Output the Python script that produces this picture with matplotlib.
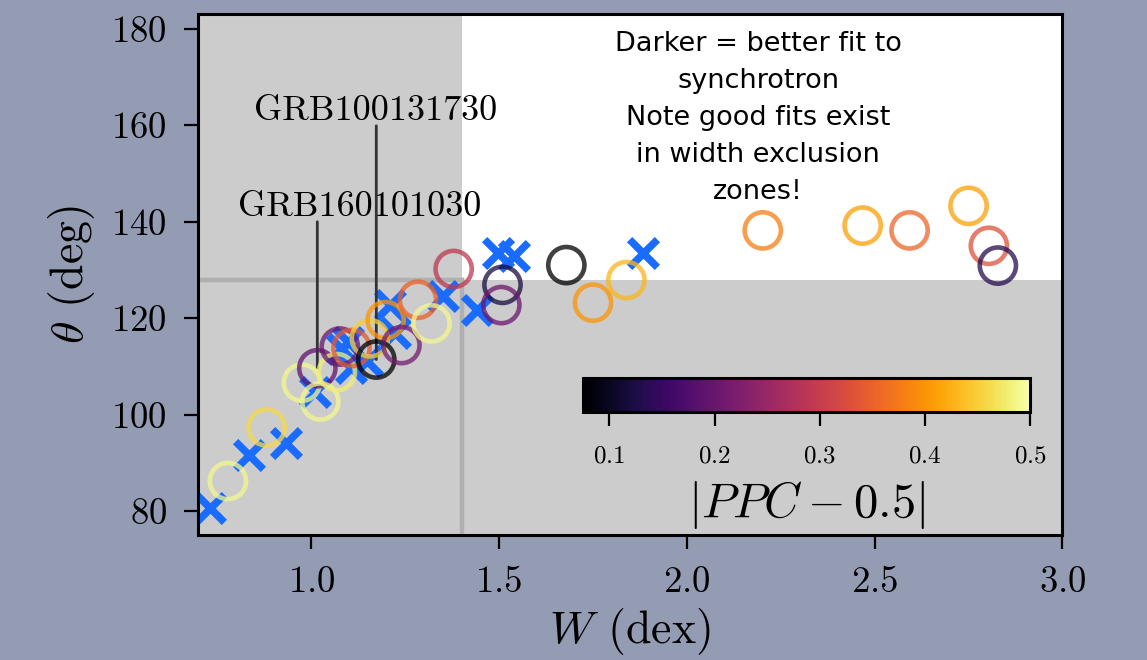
import matplotlib
matplotlib.use("Agg")
import matplotlib.pyplot as plt
from matplotlib.colors import Normalize
from matplotlib.cm import ScalarMappable

plt.rcParams['font.family'] = 'serif'
plt.rcParams['font.serif'] = ['cmr10']
plt.rcParams['mathtext.fontset'] = 'cm'
plt.rcParams['axes.formatter.use_mathtext'] = True
plt.rcParams['axes.unicode_minus'] = False

# Bursts with a synchrotron fit: width W (dex), angle theta (deg), |PPC - 0.5|
fit_w = [0.778, 0.881, 0.975, 1.016, 1.024, 1.068, 1.076, 1.107, 1.156, 1.173,
         1.198, 1.240, 1.284, 1.320, 1.379, 1.509, 1.506, 1.679, 1.750, 1.839,
         2.202, 2.468, 2.593, 2.750, 2.804, 2.828]
fit_theta = [86.2, 97.3, 106.6, 109.6, 102.7, 108.8, 114.1, 113.8, 115.8, 111.4,
             119.6, 114.4, 123.8, 118.9, 130.2, 126.9, 122.7, 131.0, 123.2, 127.9,
             138.2, 139.2, 138.2, 143.3, 135.0, 130.9]
fit_ppc = [0.49, 0.46, 0.49, 0.19, 0.49, 0.48, 0.20, 0.34, 0.45, 0.075,
           0.40, 0.21, 0.35, 0.49, 0.29, 0.12, 0.20, 0.075, 0.40, 0.43,
           0.38, 0.41, 0.355, 0.41, 0.33, 0.13]

# Remaining bursts
other_w = [0.729, 0.833, 0.933, 1.009, 1.082, 1.098, 1.107, 1.147, 1.209, 1.222,
           1.351, 1.440, 1.497, 1.541, 1.883]
other_theta = [80.6, 91.5, 94.0, 104.7, 113.6, 115.0, 109.6, 111.0, 122.7, 116.9,
               124.5, 121.7, 133.5, 132.8, 133.5]

# Labelled bursts (index into the fit arrays) and where their names sit
label_names = ['GRB160101030', 'GRB100131730']
label_index = [3, 9]
label_text_w = [1.128, 1.172]
label_text_theta = [141.2, 161.1]
label_line_top = [140.0, 159.9]

# Exclusion thresholds
W_CUT = 1.4
THETA_CUT = 128

cbar_ticks = [0.1, 0.2, 0.3, 0.4, 0.5]
PPC_MIN, PPC_MAX = 0.075, 0.5

xlim = (0.697, 3.0)
ylim = (75.0, 183.1)

fig = plt.figure(figsize=(11.47, 6.6), dpi=100, facecolor='#949cb4')
ax = fig.add_axes([0.1722, 0.1894, 0.7541, 0.7894])
ax.set_facecolor('white')
ax.set_xlim(*xlim)
ax.set_ylim(*ylim)

# Shaded exclusion zones
ax.axvspan(xlim[0], W_CUT, color='#cccccc', lw=0, zorder=0)
ax.axhspan(ylim[0], THETA_CUT, color='#cccccc', lw=0, zorder=0)
ax.axhline(THETA_CUT, xmin=0, xmax=(W_CUT - xlim[0]) / (xlim[1] - xlim[0]),
           color='#b0b0b0', lw=3.2, zorder=1)
ax.axvline(W_CUT, ymin=0, ymax=(THETA_CUT - ylim[0]) / (ylim[1] - ylim[0]),
           color='#b0b0b0', lw=3.2, zorder=1)

cmap = plt.get_cmap('inferno')
norm = Normalize(PPC_MIN, PPC_MAX)

ax.scatter(other_w, other_theta, marker='x', s=400, c='#196cff',
           linewidths=5.4, zorder=2)

for name, idx, tw, tt, top in zip(label_names, label_index, label_text_w,
                                  label_text_theta, label_line_top):
    ax.annotate('', xy=(fit_w[idx], fit_theta[idx]), xytext=(fit_w[idx], top),
                arrowprops=dict(arrowstyle='-', color='#333333', lw=2,
                                shrinkA=0, shrinkB=0), zorder=3)
    ax.text(tw, tt, name, ha='center', va='baseline', fontsize=26, zorder=3)

ax.scatter(fit_w, fit_theta, s=680, facecolors='none',
           edgecolors=cmap(norm(fit_ppc)), linewidths=3.3, alpha=0.75, zorder=4)

ax.text(0.648, 0.968,
        'Darker = better fit to\nsynchrotron\nNote good fits exist\n'
        'in width exclusion\nzones!',
        transform=ax.transAxes, ha='center', va='top', family='DejaVu Sans',
        fontsize=19.5, linespacing=1.55, zorder=5)

ax.set_xticks([1.0, 1.5, 2.0, 2.5, 3.0])
ax.set_yticks([80, 100, 120, 140, 160, 180])
ax.tick_params(direction='out', length=10, width=1.6, labelsize=26.5, pad=12)
for sp in ax.spines.values():
    sp.set_linewidth(2.2)
ax.set_xlabel(r'$W$ (dex)', fontsize=33, labelpad=5)
ax.set_ylabel(r'$\theta$ (deg)', fontsize=33, labelpad=10)

# Colour bar inside the axes
cax = ax.inset_axes([0.4457, 0.236, 0.517, 0.065])
sm = ScalarMappable(norm=norm, cmap=cmap)
cb = fig.colorbar(sm, cax=cax, orientation='horizontal')
cb.set_ticks(cbar_ticks)
cb.outline.set_linewidth(2.2)
cax.tick_params(direction='out', length=10, width=1.6, labelsize=18, pad=14)
cb.set_label(r'$|PPC - 0.5|$', fontsize=35, labelpad=8)

fig.savefig('out.png', dpi=100, facecolor=fig.get_facecolor())
